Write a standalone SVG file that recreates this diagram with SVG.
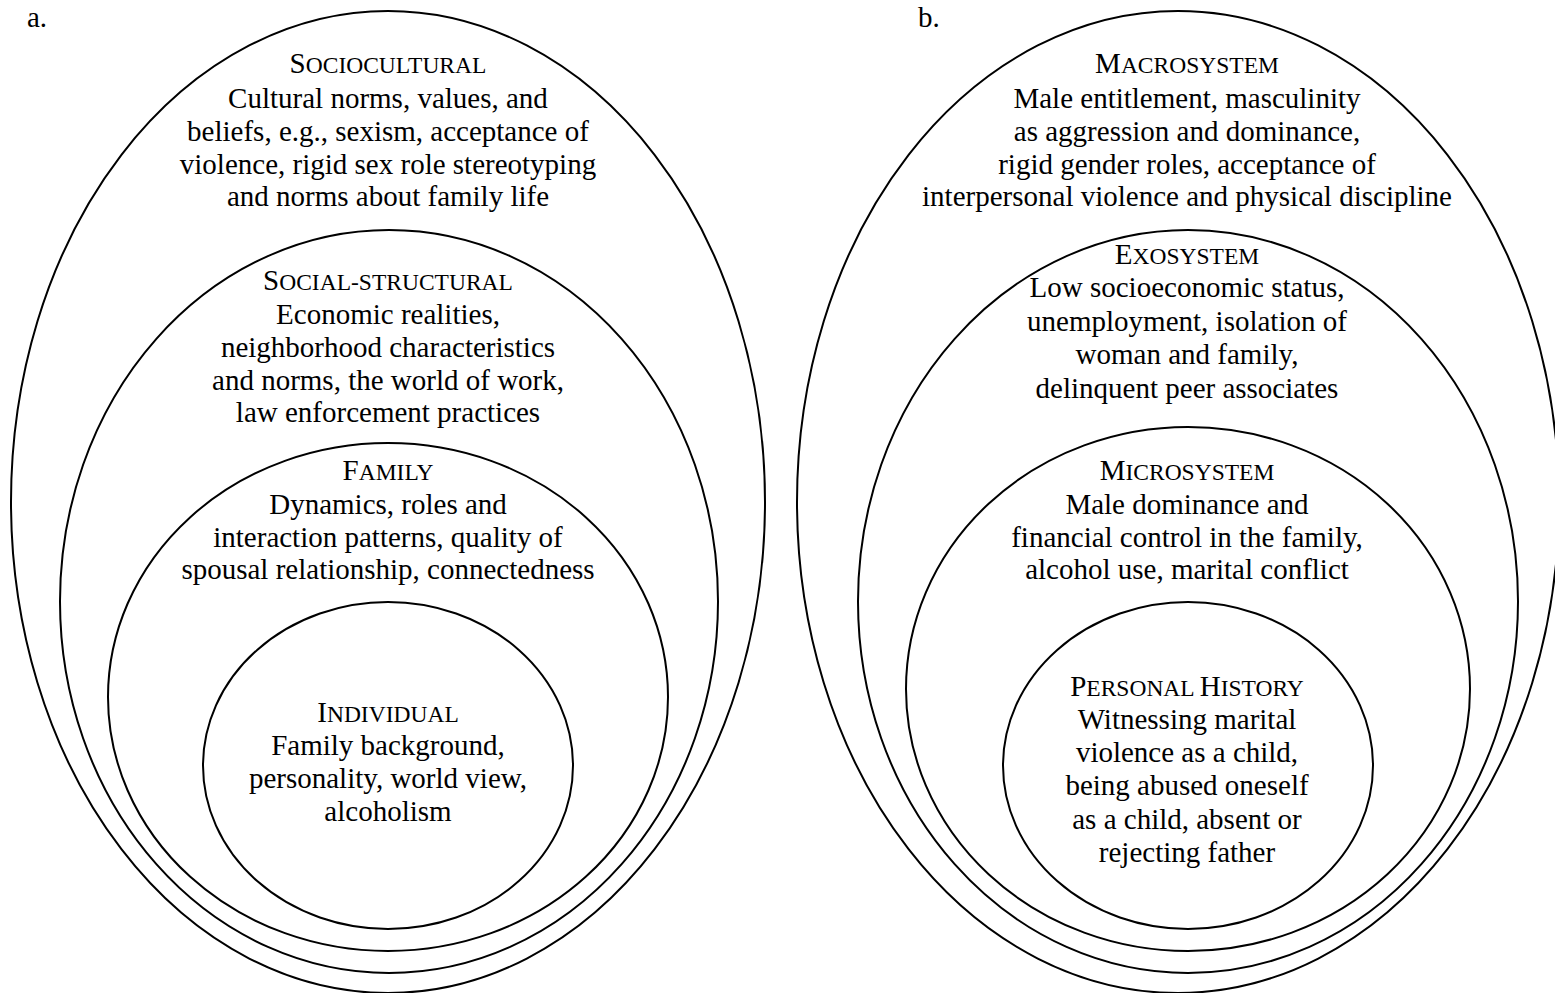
<svg xmlns="http://www.w3.org/2000/svg" width="1555" height="993" viewBox="0 0 1555 993">
<style>
  .ring { fill: none; stroke: #000; stroke-width: 2; }
  text { font-family: "Liberation Serif", "Times New Roman", serif; font-size: 29px; fill: #000; text-anchor: middle; }
  .sc { font-size: 23.5px; }
  .lbl { text-anchor: start; }
</style>
<rect width="1555" height="993" fill="#fff"/>
<g id="panel-a">
  <text class="lbl" x="27" y="27">a.</text>
  <g id="sociocultural">
    <ellipse class="ring" cx="388" cy="502" rx="377" ry="491"/>
    <text x="388" y="73">S<tspan class="sc">OCIOCULTURAL</tspan></text>
    <text x="388" y="108">Cultural norms, values, and</text>
    <text x="388" y="141">beliefs, e.g., sexism, acceptance of</text>
    <text x="388" y="174">violence, rigid sex role stereotyping</text>
    <text x="388" y="206">and norms about family life</text>
  </g>
  <g id="social-structural">
    <ellipse class="ring" cx="389" cy="601.5" rx="329" ry="371.5"/>
    <text x="388" y="290">S<tspan class="sc">OCIAL-STRUCTURAL</tspan></text>
    <text x="388" y="324">Economic realities,</text>
    <text x="388" y="357">neighborhood characteristics</text>
    <text x="388" y="390">and norms, the world of work,</text>
    <text x="388" y="422">law enforcement practices</text>
  </g>
  <g id="family">
    <ellipse class="ring" cx="388" cy="697" rx="280" ry="254"/>
    <text x="388" y="480">F<tspan class="sc">AMILY</tspan></text>
    <text x="388" y="514">Dynamics, roles and</text>
    <text x="388" y="547">interaction patterns, quality of</text>
    <text x="388" y="579">spousal relationship, connectedness</text>
  </g>
  <g id="individual">
    <ellipse class="ring" cx="388" cy="765.5" rx="185" ry="163.5"/>
    <text x="388" y="722">I<tspan class="sc">NDIVIDUAL</tspan></text>
    <text x="388" y="755">Family background,</text>
    <text x="388" y="788">personality, world view,</text>
    <text x="388" y="821">alcoholism</text>
  </g>
</g>
<g id="panel-b">
  <text class="lbl" x="918" y="27">b.</text>
  <g id="macrosystem">
    <ellipse class="ring" cx="1178" cy="502" rx="381" ry="491"/>
    <text x="1187" y="73">M<tspan class="sc">ACROSYSTEM</tspan></text>
    <text x="1187" y="108">Male entitlement, masculinity</text>
    <text x="1187" y="141">as aggression and dominance,</text>
    <text x="1187" y="174">rigid gender roles, acceptance of</text>
    <text x="1187" y="206">interpersonal violence and physical discipline</text>
  </g>
  <g id="exosystem">
    <ellipse class="ring" cx="1188" cy="601.5" rx="330" ry="371.5"/>
    <text x="1187" y="264">E<tspan class="sc">XOSYSTEM</tspan></text>
    <text x="1187" y="297">Low socioeconomic status,</text>
    <text x="1187" y="331">unemployment, isolation of</text>
    <text x="1187" y="364">woman and family,</text>
    <text x="1187" y="398">delinquent peer associates</text>
  </g>
  <g id="microsystem">
    <ellipse class="ring" cx="1188" cy="689" rx="282" ry="262"/>
    <text x="1187" y="480">M<tspan class="sc">ICROSYSTEM</tspan></text>
    <text x="1187" y="514">Male dominance and</text>
    <text x="1187" y="547">financial control in the family,</text>
    <text x="1187" y="579">alcohol use, marital conflict</text>
  </g>
  <g id="personal-history">
    <ellipse class="ring" cx="1188" cy="765.5" rx="185" ry="163.5"/>
    <text x="1187" y="696">P<tspan class="sc">ERSONAL </tspan>H<tspan class="sc">ISTORY</tspan></text>
    <text x="1187" y="729">Witnessing marital</text>
    <text x="1187" y="762">violence as a child,</text>
    <text x="1187" y="795">being abused oneself</text>
    <text x="1187" y="829">as a child, absent or</text>
    <text x="1187" y="862">rejecting father</text>
  </g>
</g>
<g id="connectors"/>
</svg>
